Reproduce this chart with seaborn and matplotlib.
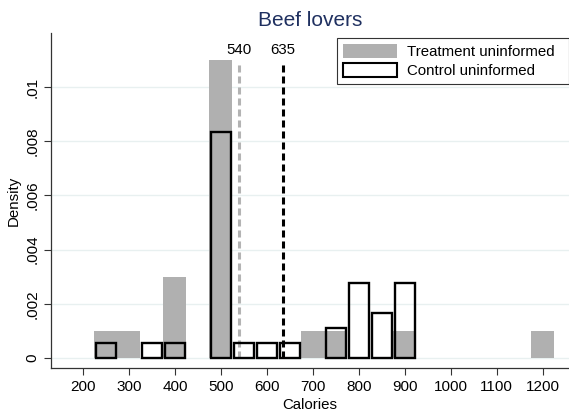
import pandas as pd
import matplotlib
matplotlib.use("Agg")
import matplotlib.pyplot as plt
from matplotlib import font_manager
from matplotlib.patches import Patch
import seaborn as sns

# Bin centres (width 50) and densities
trt_centers = [250, 300, 400, 500, 700, 750, 900, 1200]
trt_density = [0.001, 0.001, 0.003, 0.011, 0.001, 0.001, 0.001, 0.001]

ctl_centers = [250, 350, 400, 500, 550, 600, 650, 750, 800, 850, 900]
ctl_density = [0.00056, 0.00056, 0.00056, 0.00833, 0.00056, 0.00056,
               0.00056, 0.00111, 0.00278, 0.00167, 0.00278]

means = [540, 635]
mean_labels = ["540", "635"]
mean_colors = ["#b3b3b3", "black"]

series_labels = ["Treatment uninformed", "Control uninformed"]
x_ticks = [200, 300, 400, 500, 600, 700, 800, 900, 1000, 1100, 1200]
y_ticks = [0, 0.002, 0.004, 0.006, 0.008, 0.01]
y_tick_labels = ["0", ".002", ".004", ".006", ".008", ".01"]

trt = pd.DataFrame({"calories": trt_centers, "density": trt_density})
ctl = pd.DataFrame({"calories": ctl_centers, "density": ctl_density})

# keep the narrow Liberation cut from being picked
font_manager.fontManager.ttflist = [
    f for f in font_manager.fontManager.ttflist if "Narrow" not in f.fname
]

sns.set_style("white")
plt.rcParams['font.family'] = ['Liberation Sans', 'DejaVu Sans']
plt.rcParams['text.color'] = 'black'
plt.rcParams['axes.labelcolor'] = 'black'
plt.rcParams['xtick.color'] = 'black'
plt.rcParams['ytick.color'] = 'black'

fig = plt.figure(figsize=(5.69, 4.12), dpi=100)
ax = fig.add_axes([0.0896, 0.1068, 0.9104, 0.813])

edges = list(range(225, 1275, 50))

# gridlines first
for yv in y_ticks:
    ax.axhline(yv, color="#e8f0f0", linewidth=1, zorder=0)

sns.histplot(data=trt, x="calories", weights="density", bins=edges,
             stat="count", color="#b0b0b0", alpha=1, linewidth=0,
             edgecolor="none", ax=ax, zorder=1)
sns.histplot(data=ctl, x="calories", weights="density", bins=edges,
             stat="count", fill=False, color="black", linewidth=1.7,
             shrink=0.9, ax=ax, zorder=3)

# empty bins should not leave a flat outline on the baseline
for p in ax.patches:
    if p.get_height() == 0:
        p.set_visible(False)

for m, lab, c in zip(means, mean_labels, mean_colors):
    ax.plot([m, m], [0, 0.0109], color=c, linestyle=(0, (2.3, 1.3)),
            linewidth=2.2, zorder=2)
    ax.text(m, 0.0112, lab, ha="center", va="baseline", fontsize=10.8)

ax.set_xlim(130.4, 1257)
ax.set_ylim(-0.00037, 0.01199)
ax.set_xticks(x_ticks)
ax.set_yticks(y_ticks)
ax.set_yticklabels(y_tick_labels)
plt.setp(ax.get_yticklabels(), rotation=90, va="center")
ax.tick_params(axis="both", direction="out", length=5, width=0.8,
               color="#333333", labelsize=11, left=True, bottom=True)
ax.tick_params(axis="x", pad=3.5)
ax.tick_params(axis="y", pad=3)

for side in ["top", "right"]:
    ax.spines[side].set_visible(False)
for side in ["left", "bottom"]:
    ax.spines[side].set_color("#333333")
    ax.spines[side].set_linewidth(0.9)

ax.set_xlabel("Calories", fontsize=10.8, labelpad=3)
ax.set_ylabel("Density", fontsize=10.8, labelpad=4)
ax.set_title("Beef lovers", fontsize=15, color="#1f3060", pad=5)

handles = [Patch(facecolor="#b0b0b0", edgecolor="none"),
           Patch(facecolor="white", edgecolor="black", linewidth=1.5)]
leg = ax.legend(handles, series_labels, loc="upper right",
                bbox_to_anchor=(0.552, 0, 0.448, 0.985), mode="expand",
                fontsize=10.8, frameon=True, fancybox=False,
                edgecolor="#333333", framealpha=1, handlelength=3.6,
                handleheight=1.07, borderpad=0.4, labelspacing=0.27,
                handletextpad=0.65, borderaxespad=0)
leg.get_frame().set_linewidth(0.8)

fig.savefig("out.png", dpi=100)
